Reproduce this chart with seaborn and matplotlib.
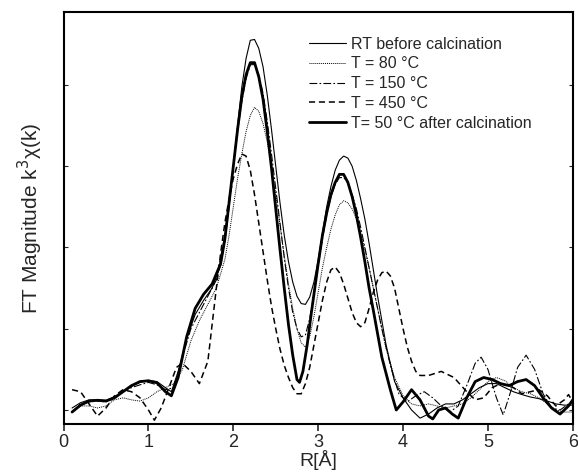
import pandas as pd
import matplotlib
matplotlib.use('Agg')
import matplotlib.pyplot as plt
import seaborn as sns

# FT magnitude curves
rt_x = [0.1, 0.2, 0.3, 0.4, 0.5, 0.6, 0.7, 0.8, 0.9, 1.0, 1.1, 1.2, 1.27, 1.35, 1.45, 1.55, 1.65, 1.75, 1.85,
        1.9, 1.95, 2.0, 2.05, 2.1, 2.15, 2.2, 2.25, 2.3, 2.35, 2.4, 2.45, 2.5, 2.55, 2.6, 2.65, 2.7, 2.75, 2.8,
        2.85, 2.9, 2.95, 3.0, 3.05, 3.1, 3.15, 3.2, 3.25, 3.3, 3.35, 3.4, 3.45, 3.5, 3.55, 3.6, 3.7, 3.8, 3.9,
        4.0, 4.1, 4.2, 4.3, 4.4, 4.5, 4.6, 4.7, 4.8, 4.9, 5.0, 5.1, 5.2, 5.3, 5.4, 5.5, 5.6, 5.7, 5.8, 5.9, 6.0]
rt_y = [0.05, 0.18, 0.25, 0.25, 0.24, 0.33, 0.45, 0.58, 0.68, 0.73, 0.70, 0.55, 0.45, 0.95, 1.75, 2.35, 2.7,
        3.0, 3.55, 4.15, 5.0, 6.0, 7.0, 7.95, 8.65, 9.1, 9.12, 8.9, 8.45, 7.75, 6.9, 6.0, 5.1, 4.3, 3.65, 3.15,
        2.8, 2.62, 2.6, 2.78, 3.15, 3.7, 4.35, 5.0, 5.5, 5.9, 6.15, 6.25, 6.2, 6.0, 5.65, 5.2, 4.7, 4.1, 2.8,
        1.6, 0.7, 0.3, 0.0, -0.2, -0.1, 0.05, 0.15, 0.15, 0.25, 0.4, 0.55, 0.65, 0.65, 0.55, 0.45, 0.38, 0.32,
        0.28, 0.22, 0.15, 0.12, 0.12]

t80_x = [0.1, 0.2, 0.3, 0.4, 0.5, 0.6, 0.7, 0.8, 0.9, 1.0, 1.1, 1.2, 1.3, 1.4, 1.5, 1.6, 1.7, 1.8, 1.9, 1.95,
         2.0, 2.05, 2.1, 2.15, 2.2, 2.25, 2.3, 2.35, 2.4, 2.45, 2.5, 2.55, 2.6, 2.65, 2.7, 2.75, 2.8, 2.85, 2.9,
         2.95, 3.0, 3.05, 3.1, 3.15, 3.2, 3.25, 3.3, 3.35, 3.4, 3.45, 3.5, 3.55, 3.6, 3.7, 3.8, 3.9, 4.0, 4.1,
         4.2, 4.3, 4.4, 4.5, 4.6, 4.7, 4.8, 4.9, 5.0, 5.1, 5.2, 5.3, 5.4, 5.5, 5.6, 5.7, 5.8, 5.9, 6.0]
t80_y = [-0.05, 0.1, 0.1, 0.05, 0.1, 0.25, 0.3, 0.25, 0.22, 0.3, 0.45, 0.55, 0.65, 1.0, 1.7, 2.2, 2.6, 3.0,
         3.7, 4.3, 5.0, 5.7, 6.3, 6.85, 7.25, 7.45, 7.35, 7.05, 6.6, 6.0, 5.3, 4.55, 3.8, 3.1, 2.5, 2.0, 1.65,
         1.55, 1.8, 2.3, 2.9, 3.5, 4.0, 4.45, 4.8, 5.05, 5.15, 5.1, 4.95, 4.7, 4.35, 3.95, 3.5, 2.5, 1.5, 0.8,
         0.35, 0.15, 0.1, 0.15, 0.1, 0.05, 0.1, 0.15, 0.3, 0.5, 0.7, 0.8, 0.72, 0.55, 0.45, 0.4, 0.3, 0.15,
         0.0, -0.05, -0.05]

t150_x = [0.1, 0.2, 0.3, 0.4, 0.5, 0.6, 0.7, 0.8, 0.9, 1.0, 1.1, 1.2, 1.3, 1.4, 1.5, 1.6, 1.7, 1.8, 1.9, 1.95,
          2.0, 2.05, 2.1, 2.15, 2.2, 2.25, 2.3, 2.35, 2.4, 2.45, 2.5, 2.55, 2.6, 2.65, 2.7, 2.75, 2.8, 2.85, 2.9,
          2.95, 3.0, 3.05, 3.1, 3.15, 3.2, 3.25, 3.3, 3.35, 3.4, 3.45, 3.5, 3.55, 3.6, 3.65, 3.75, 3.85, 3.95,
          4.05, 4.15, 4.25, 4.35, 4.45, 4.55, 4.65, 4.75, 4.85, 4.92, 5.0, 5.1, 5.18, 5.26, 5.35, 5.45, 5.55,
          5.65, 5.75, 5.85, 5.95, 6.0]
t150_y = [-0.05, 0.15, 0.2, 0.22, 0.2, 0.3, 0.45, 0.55, 0.62, 0.68, 0.62, 0.5, 0.55, 1.3, 2.0, 2.4, 2.8, 3.2,
          4.3, 5.1, 6.0, 6.85, 7.6, 8.15, 8.5, 8.5, 8.25, 7.8, 7.1, 6.3, 5.45, 4.6, 3.75, 3.0, 2.4, 2.0, 1.8,
          1.85, 2.25, 2.85, 3.55, 4.2, 4.8, 5.25, 5.55, 5.72, 5.72, 5.6, 5.3, 4.95, 4.5, 4.0, 3.5, 3.0, 2.0,
          1.1, 0.4, 0.2, 0.35, 0.45, 0.3, 0.1, -0.05, 0.1, 0.6, 1.15, 1.3, 1.0, 0.3, -0.12, 0.4, 1.05, 1.35,
          1.0, 0.4, 0.05, 0.0, 0.15, 0.2]

t450_x = [0.1, 0.2, 0.3, 0.4, 0.5, 0.6, 0.7, 0.8, 0.9, 1.0, 1.07, 1.15, 1.25, 1.33, 1.4, 1.5, 1.6, 1.7, 1.8,
          1.85, 1.9, 1.95, 2.0, 2.05, 2.1, 2.15, 2.2, 2.25, 2.3, 2.35, 2.4, 2.45, 2.5, 2.55, 2.6, 2.65, 2.7,
          2.75, 2.8, 2.85, 2.9, 2.95, 3.0, 3.05, 3.1, 3.15, 3.2, 3.25, 3.3, 3.35, 3.4, 3.45, 3.5, 3.55, 3.6,
          3.65, 3.7, 3.75, 3.8, 3.85, 3.9, 3.95, 4.0, 4.05, 4.1, 4.15, 4.2, 4.3, 4.45, 4.6, 4.75, 4.85, 4.95,
          5.05, 5.15, 5.3, 5.4, 5.5, 5.6, 5.7, 5.8, 5.9, 5.95, 6.0]
t450_y = [0.5, 0.45, 0.15, -0.15, 0.05, 0.35, 0.5, 0.45, 0.3, 0.0, -0.25, 0.05, 0.6, 1.05, 1.15, 0.95, 0.65,
          1.2, 3.0, 3.85, 4.6, 5.2, 5.7, 6.05, 6.3, 6.25, 5.9, 5.3, 4.6, 3.9, 3.2, 2.55, 2.0, 1.5, 1.1, 0.8,
          0.55, 0.4, 0.4, 0.65, 1.05, 1.6, 2.15, 2.7, 3.15, 3.45, 3.52, 3.38, 3.1, 2.75, 2.4, 2.15, 2.05, 2.15,
          2.5, 2.9, 3.2, 3.38, 3.42, 3.3, 3.0, 2.5, 2.0, 1.55, 1.2, 0.95, 0.85, 0.85, 0.95, 0.8, 0.45, 0.25,
          0.3, 0.55, 0.65, 0.55, 0.4, 0.45, 0.5, 0.35, 0.1, 0.25, 0.38, 0.2]

t50_x = [0.1, 0.2, 0.3, 0.4, 0.5, 0.6, 0.7, 0.8, 0.9, 1.0, 1.1, 1.2, 1.27, 1.35, 1.45, 1.55, 1.65, 1.75, 1.85,
         1.9, 1.95, 2.0, 2.05, 2.1, 2.15, 2.2, 2.25, 2.3, 2.35, 2.4, 2.45, 2.5, 2.55, 2.6, 2.65, 2.7, 2.75,
         2.78, 2.82, 2.87, 2.92, 3.0, 3.05, 3.1, 3.15, 3.2, 3.25, 3.3, 3.35, 3.4, 3.45, 3.5, 3.55, 3.6, 3.65,
         3.75, 3.85, 3.92, 4.0, 4.1, 4.2, 4.3, 4.35, 4.42, 4.5, 4.58, 4.65, 4.75, 4.85, 4.95, 5.05, 5.15, 5.25,
         5.35, 5.45, 5.55, 5.65, 5.75, 5.85, 5.95, 6.0]
t50_y = [-0.05, 0.12, 0.22, 0.24, 0.22, 0.3, 0.45, 0.6, 0.7, 0.72, 0.67, 0.45, 0.35, 0.8, 1.8, 2.5, 2.85, 3.1,
         3.6, 4.2, 5.1, 6.0, 6.9, 7.7, 8.25, 8.55, 8.55, 8.2, 7.65, 6.85, 5.95, 4.95, 3.95, 3.0, 2.1, 1.35,
         0.75, 0.68, 0.95, 1.6, 2.4, 3.6, 4.3, 4.85, 5.3, 5.6, 5.8, 5.8, 5.6, 5.25, 4.8, 4.25, 3.65, 3.0, 2.45,
         1.3, 0.5, 0.0, 0.2, 0.5, 0.25, -0.15, -0.22, 0.0, 0.05, -0.1, -0.2, 0.3, 0.7, 0.8, 0.75, 0.65, 0.6,
         0.7, 0.75, 0.6, 0.3, 0.05, -0.1, 0.1, 0.25]

labels = ['RT before calcination', 'T = 80 °C', 'T = 150 °C', 'T = 450 °C', 'T= 50 °C after calcination']
x_ticks = [0, 1, 2, 3, 4, 5, 6]

sns.set_style('ticks')
plt.rcParams['font.family'] = ['Liberation Sans', 'DejaVu Sans']
plt.rcParams['axes.linewidth'] = 1.5

fig = plt.figure(figsize=(5.78, 4.74), dpi=100)
ax = fig.add_axes([0.110, 0.105, 0.881, 0.870])

series = [(rt_x, rt_y, '-', 0.8), (t80_x, t80_y, (0, (1, 1)), 0.7), (t150_x, t150_y, (0, (7, 2, 1.5, 2)), 0.8),
          (t450_x, t450_y, (0, (4, 2.5)), 1.1), (t50_x, t50_y, '-', 2.0)]
for (xs, ys, ls, lw), lab in zip(series, labels):
    sns.lineplot(x=xs, y=ys, ax=ax, color='black', linestyle=ls, linewidth=lw, label=lab, sort=False)

ax.set_xlim(0, 6)
ax.set_ylim(-0.35, 9.8)
ax.set_xticks(x_ticks)
ax.set_yticks([0, 2, 4, 6, 8])
ax.set_yticklabels([])
ax.tick_params(axis='x', direction='out', length=5, width=1.2, labelsize=13, pad=2)
ax.tick_params(axis='y', direction='in', length=3, width=0.8, left=True, right=True)
for s in ax.spines.values():
    s.set_color('black')

ax.set_xlabel('R[Å]', fontsize=14, labelpad=-1)
ax.set_ylabel('FT Magnitude k$^3$χ(k)', fontsize=15, labelpad=10)

ax.legend(loc='upper left', bbox_to_anchor=(0.482, 0.94), frameon=False, fontsize=11.5,
          handlelength=2.3, handletextpad=0.35, labelspacing=0.3, borderpad=0, borderaxespad=0)

fig.savefig('out.png', dpi=100)
